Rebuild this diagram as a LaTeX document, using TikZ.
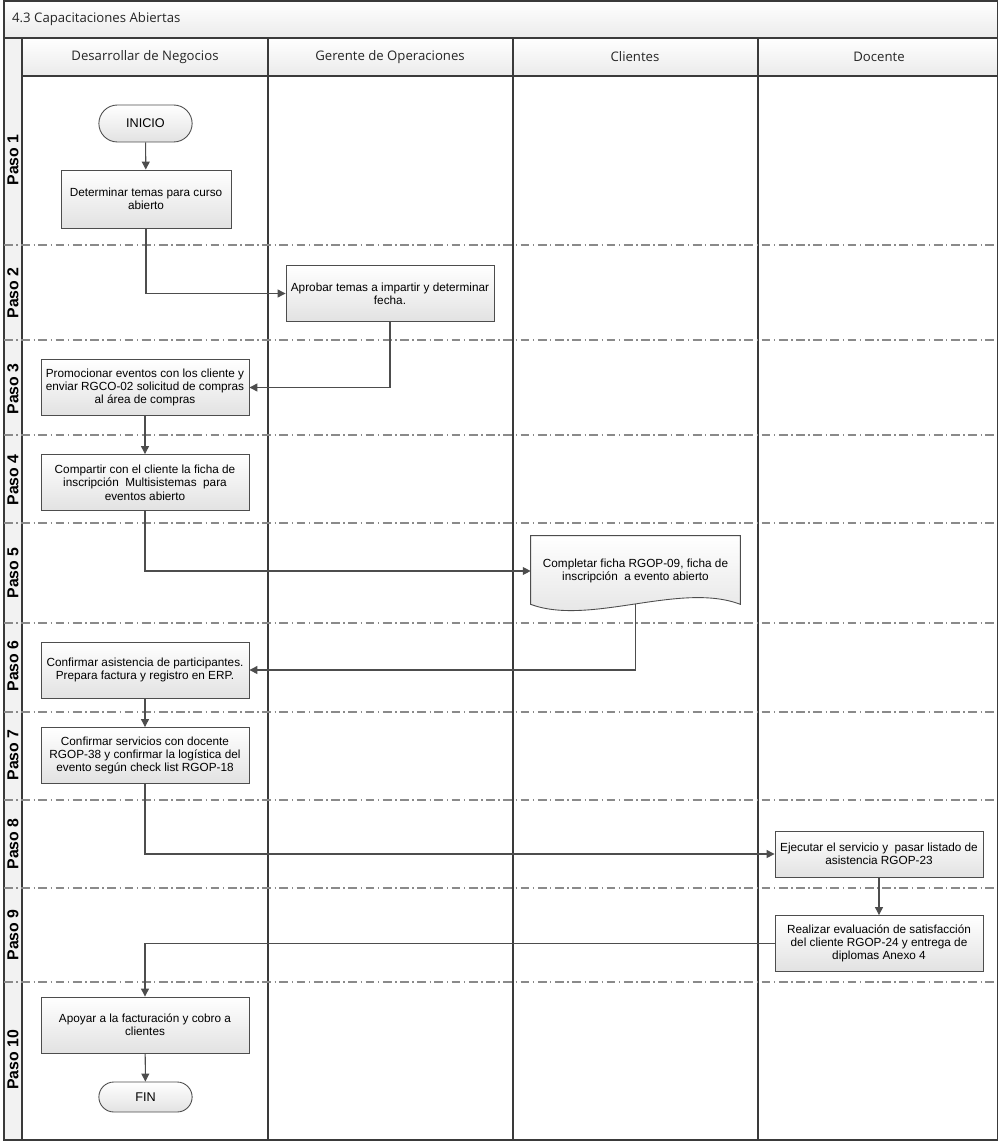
\documentclass[tikz,border=0pt]{standalone}
\usepackage{fontspec}
\setmainfont{Liberation Sans}
\newfontfamily\headfont{Open Sans}
\usetikzlibrary{calc,arrows.meta,shapes.misc,backgrounds}
\definecolor{line}{HTML}{4D4D4D}
\definecolor{frame}{HTML}{3A3A3A}
\definecolor{shadebot}{HTML}{E2E2E2}
\definecolor{sep}{HTML}{8A8A8A}
\definecolor{strip}{HTML}{F2F2F2}
\tikzset{
  lane/.style={draw=frame, line width=0.7pt},
  rowsep/.style={draw=sep, line width=0.6pt, dash pattern=on 5pt off 2pt on 0.8pt off 2pt},
  box/.style={rectangle, draw=line, line width=0.5pt, top color=white, bottom color=shadebot,
    align=center, inner sep=1pt, font=\fontsize{6.7}{7.6}\selectfont},
  wide/.style={minimum width=4.16cm, minimum height=1.12cm},
  term/.style={rounded rectangle, draw=line, line width=0.5pt, top color=white, bottom color=shadebot,
    minimum width=2.1cm, font=\fontsize{7.2}{8}\selectfont},
  doc/.style={rectangle, minimum width=4.18cm, minimum height=1.32cm, align=center,
    font=\fontsize{6.7}{7.6}\selectfont},
  flow/.style={draw=line, line width=0.6pt, -{Triangle[length=4.5pt,width=4.5pt]}},
  paso/.style={rotate=90, font=\fontsize{9}{10}\bfseries\selectfont},
  head/.style={font=\headfont\fontsize{7.5}{9}\selectfont, text=black!85},
}
\begin{document}
\begin{tikzpicture}[x=0.02cm, y=-0.02cm]
  \useasboundingbox (0,0) rectangle (999,1142);

  \shade[top color=white, bottom color=black!8] (4,1) rectangle (997.5,38);
  \shade[top color=white, bottom color=black!8] (22,38) rectangle (997.5,76);
  \fill[strip] (4,38) rectangle (22,1140);
  \draw[lane] (4,1) rectangle (997.5,1140);
  \draw[lane] (4,38) -- (997.5,38);
  \draw[lane] (22,76) -- (997.5,76);
  \foreach \x in {22,268,513,758}
    \draw[lane] (\x,38) -- (\x,1140);

  \node[head, anchor=west] (titulo) at (6,19) {4.3 Capacitaciones Abiertas};
  \foreach \name/\x/\txt in {desarrollo/145/Desarrollar de Negocios, gerente/390/Gerente de Operaciones,
      clientes/635/Clientes, docente/879/Docente}
    \node[head] (\name) at (\x,57) {\txt};

  \foreach \y in {245,340,435,523,623,712,800,888,982}
    \draw[rowsep] (4,\y) -- (997.5,\y);
  \foreach \n/\y in {1/160,2/293,3/389,4/480,5/573,6/666,7/755,8/844,9/935,10/1060}
    \node[paso] (paso\n) at (13,\y) {Paso \n};

  \node[term, minimum height=0.74cm] (inicio) at (145.5,123.5) {INICIO};
  \node[box, minimum width=3.4cm, minimum height=1.16cm] (temas) at (146,199) {Determinar temas para curso\\abierto};
  \node[box, wide] (aprobar) at (390,293.5) {Aprobar temas a impartir y determinar\\fecha.};
  \node[box, wide] (promocionar) at (145,387.5) {Promocionar eventos con los cliente y\\enviar RGCO-02 solicitud de compras\\al área de compras};
  \node[box, wide] (compartir) at (145,482.5) {Compartir con el cliente la ficha de\\inscripción\ \ Multisistemas\ \ para\\eventos abierto};
  \node[doc] (ficha) at (635.5,571) {Completar ficha RGOP-09, ficha de\\inscripción\ \ a evento abierto};
  \begin{scope}[on background layer]
    \draw[line, line width=0.5pt, top color=white, bottom color=shadebot]
      ($(ficha.north west)+(0,-2)$) -- ($(ficha.north east)+(0,-2)$) -- ($(ficha.south east)+(0,0)$)
      .. controls ($(ficha.south east)+(-60,-23)$) and ($(ficha.south west)+(59,22)$) .. ($(ficha.south west)+(0,0)$)
      -- cycle;
  \end{scope}
  \node[box, wide] (confasist) at (145,670) {Confirmar asistencia de participantes.\\Prepara factura y registro en ERP.};
  \node[box, wide] (confserv) at (145,755.5) {Confirmar servicios con docente\\RGOP-38 y confirmar la logística del\\evento según check list RGOP-18};
  \node[box, minimum width=4.16cm, minimum height=0.92cm] (ejecutar) at (879,854) {Ejecutar el servicio y\ \ pasar listado de\\asistencia RGOP-23};
  \node[box, wide] (realizar) at (879,943.5) {Realizar evaluación de satisfacción\\del cliente RGOP-24 y entrega de\\diplomas Anexo 4};
  \node[box, wide] (apoyar) at (145,1025) {Apoyar a la facturación y cobro a\\clientes};
  \node[term, minimum height=0.6cm] (fin) at (145.5,1097) {FIN};

  \draw[flow] (inicio) -- (temas);
  \draw[flow] (temas.south) |- (aprobar.west);
  \draw[flow] (aprobar.south) |- (promocionar.east);
  \draw[flow] (promocionar) -- (compartir);
  \draw[flow] (compartir.south) |- (ficha.west);
  \draw[flow] (ficha.south) |- (confasist.east);
  \draw[flow] (confasist) -- (confserv);
  \draw[flow] (confserv.south) |- (ejecutar.west);
  \draw[flow] (ejecutar) -- (realizar);
  \draw[flow] (realizar.west) -| (apoyar.north);
  \draw[flow] (apoyar) -- (fin);
\end{tikzpicture}
\end{document}
